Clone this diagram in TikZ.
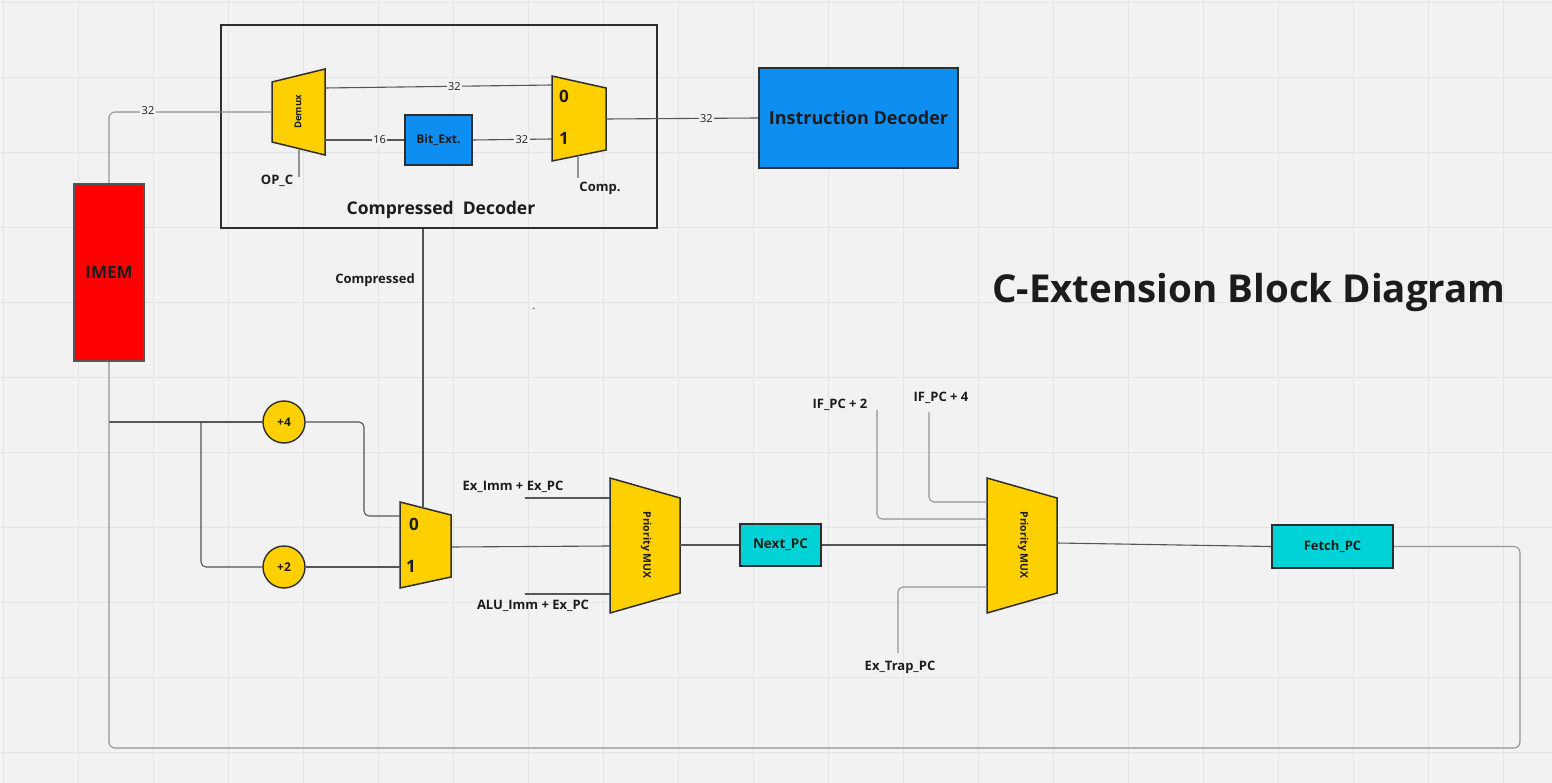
\documentclass[tikz,border=0pt]{standalone}
\usepackage{fontspec}
\setmainfont{Open Sans}
\usetikzlibrary{positioning}

\definecolor{bgcol}{HTML}{F2F2F2}
\definecolor{gridcol}{HTML}{E4E4E4}
\definecolor{muxyellow}{HTML}{FFD000}
\definecolor{imemred}{HTML}{FF0000}
\definecolor{decblue}{HTML}{0E8EF1}
\definecolor{pccyan}{HTML}{00D3D8}
\definecolor{wirecol}{HTML}{555555}
\definecolor{txtcol}{HTML}{1C1C1C}
\definecolor{edgecol}{HTML}{2E2E2E}

\tikzset{
  wire/.style={draw=wirecol, line width=1.1pt},
  softwire/.style={draw=gray!85, line width=1.1pt},
  block/.style={draw=edgecol, line width=1.6pt, inner sep=0pt, text=txtcol},
  muxshape/.style={fill=muxyellow, draw=edgecol, line width=1.5pt},
  buslabel/.style={fill=bgcol, inner sep=1.5pt, text=txtcol, font=\fontsize{11}{11}\selectfont},
  siglabel/.style={inner sep=0pt, text=txtcol, font=\bfseries\fontsize{13}{13}\selectfont},
  portlabel/.style={inner sep=0pt, text=txtcol, font=\bfseries\fontsize{17}{17}\selectfont},
  adder/.style={circle, fill=muxyellow, draw=edgecol, line width=1.4pt, minimum size=42pt, inner sep=0pt, text=txtcol, font=\bfseries\fontsize{12}{12}\selectfont}
}

\begin{document}
\begin{tikzpicture}[x=1pt, y=-1pt]
% Draw background and grid
\fill[bgcol] (0,0) rectangle (1552,783);
\useasboundingbox (0,0) rectangle (1552,783);
\foreach \x in {3,78,...,1553}
\draw[gridcol, line width=0.9pt] (\x,0)--(\x,783);
\foreach \y in {2,77,...,782}
\draw[gridcol, line width=0.9pt] (0,\y)--(1552,\y);

% Draw title
\node[inner sep=0pt, text=txtcol, font=\bfseries\fontsize{38.5}{38.5}\selectfont] (title) at (1249,292) {C-Extension Block Diagram};
\node[inner sep=0pt, font=\fontsize{10}{10}\selectfont] (dot) at (534,309) {.};

% Draw blocks
\node[block, draw=wirecol, fill=imemred, minimum width=70pt, minimum height=177pt, font=\bfseries\fontsize{17}{17}\selectfont] (imem) at (109,272.5) {IMEM};
\node[block, minimum width=436pt, minimum height=203pt] (cdec) at (439,126.5) {};
\node[siglabel, font=\bfseries\fontsize{17.5}{17.5}\selectfont] (cdeclabel) at (441,210) {Compressed\ \ Decoder};
\node[block, fill=decblue, minimum width=67pt, minimum height=50pt, font=\bfseries\fontsize{12}{12}\selectfont] (bitext) at (438.5,140) {Bit\_Ext.};
\node[block, fill=decblue, minimum width=199pt, minimum height=100pt, font=\bfseries\fontsize{18}{18}\selectfont] (idec) at (858.5,118) {Instruction Decoder};
\node[block, fill=pccyan, minimum width=81pt, minimum height=42pt, font=\bfseries\fontsize{13.5}{13.5}\selectfont] (nextpc) at (780.5,545) {Next\_PC};
\node[block, fill=pccyan, minimum width=121pt, minimum height=43pt, font=\bfseries\fontsize{13}{13}\selectfont] (fetchpc) at (1332.5,546.5) {Fetch\_PC};
\node[adder] (plus4) at (284,422) {+4};
\node[adder] (plus2) at (284,567) {+2};

% Draw demux
\filldraw[muxshape] (272,82)--(325,69)--(325,155)--(272,142)--cycle;
\node[rotate=90, inner sep=0pt, text=txtcol, font=\bfseries\fontsize{9.5}{9.5}\selectfont] (demux) at (298,112) {Demux};
\coordinate (demux-in) at (272,112);
\coordinate (demux-o0) at (325,88);
\coordinate (demux-o1) at (325,140);
\coordinate (demux-sel) at (299,149);

% Draw output mux of the decoder
\filldraw[muxshape] (552,76)--(606,88)--(606,150)--(552,161)--cycle;
\node[portlabel] (mux1-zero) at (564,96) {0};
\node[portlabel] (mux1-one) at (564,138) {1};
\coordinate (mux1-in0) at (552,85);
\coordinate (mux1-in1) at (552,139);
\coordinate (mux1-out) at (606,119);
\coordinate (mux1-sel) at (578,156);

% Draw PC increment mux
\filldraw[muxshape] (400,502)--(451,515)--(451,577)--(400,588)--cycle;
\node[portlabel] (mux2-zero) at (414,524) {0};
\node[portlabel] (mux2-one) at (411,566) {1};
\coordinate (mux2-in0) at (400,516);
\coordinate (mux2-in1) at (400,567);
\coordinate (mux2-out) at (451,547);
\coordinate (mux2-sel) at (423,508);

% Draw priority muxes
\foreach \m/\px in {pmux1/610, pmux2/987} {
\filldraw[muxshape] (\px,478)--(\px+70,498)--(\px+70,593)--(\px,613)--cycle;
\node[rotate=-90, inner sep=0pt, text=txtcol, font=\bfseries\fontsize{10.5}{10.5}\selectfont] (\m) at (\px+36,545) {Priority MUX};
}
\coordinate (pmux1-in0) at (610,498);
\coordinate (pmux1-in1) at (610,546);
\coordinate (pmux1-in2) at (610,594);
\coordinate (pmux1-out) at (680,545);
\coordinate (pmux2-in0) at (987,502);
\coordinate (pmux2-in1) at (987,519);
\coordinate (pmux2-in2) at (987,545);
\coordinate (pmux2-in3) at (987,587);
\coordinate (pmux2-out) at (1057,543);

% Draw decoder wires
\draw[softwire, rounded corners=6pt] (imem.north) |- (demux-in);
\node[buslabel] at (148,111) {32};
\draw[wire] (demux-o0) -- node[buslabel, pos=0.57] {32} (mux1-in0);
\draw[wire] (demux-o1) -- node[buslabel, pos=0.69] {16} (bitext.west);
\draw[wire] (bitext.east) -- node[buslabel, pos=0.62] {32} (mux1-in1);
\draw[wire] (mux1-out) -- node[buslabel, pos=0.66] {32} (idec.west);
\coordinate (opc-end) at (299,177);
\draw[softwire] (demux-sel) -- (opc-end);
\node[siglabel] (opc) at (277,181) {OP\_C};
\coordinate (comp-end) at (578,178);
\draw[softwire] (mux1-sel) -- (comp-end);
\node[siglabel] (comp) at (600,188) {Comp.};

% Draw PC increment wires
\coordinate (pc-split) at (109,422);
\coordinate (inc-split) at (201,422);
\coordinate (inc-bend) at (364,516);
\draw[wire] (pc-split) -- (plus4.west);
\draw[wire, rounded corners=5pt] (inc-split) |- (plus2.west);
\draw[wire, rounded corners=5pt] (plus4.east) -| (inc-bend) -- (mux2-in0);
\draw[wire] (plus2.east) -- (mux2-in1);
\draw[wire] (mux2-sel) -- (mux2-sel |- cdec.south);
\node[siglabel] (compressed) at (375,280) {Compressed};

% Draw next PC wires
\coordinate (eximm) at (525,498);
\coordinate (aluimm) at (525,594);
\draw[wire] (eximm) -- (pmux1-in0);
\draw[wire] (aluimm) -- (pmux1-in2);
\node[siglabel] (eximm-label) at (513,487) {Ex\_Imm + Ex\_PC};
\node[siglabel] (aluimm-label) at (533,606) {ALU\_Imm + Ex\_PC};
\draw[wire] (mux2-out) -- (pmux1-in1);
\draw[wire] (pmux1-out) -- (nextpc.west);
\draw[wire] (nextpc.east) -- (pmux2-in2);

% Draw fetch PC wires
\coordinate (ifpc2) at (877,410);
\coordinate (ifpc4) at (929,412);
\coordinate (trap) at (898,653);
\draw[softwire, rounded corners=5pt] (ifpc2) |- (pmux2-in1);
\draw[softwire, rounded corners=5pt] (ifpc4) |- (pmux2-in0);
\draw[softwire, rounded corners=5pt] (trap) |- (pmux2-in3);
\node[siglabel] (ifpc2-label) at (840,405) {IF\_PC + 2};
\node[siglabel] (ifpc4-label) at (941,398) {IF\_PC + 4};
\node[siglabel] (trap-label) at (900,667) {Ex\_Trap\_PC};
\draw[wire] (pmux2-out) -- (fetchpc.west);

% Draw feedback loop to IMEM
\coordinate (loop-corner) at (1520,748);
\draw[softwire, rounded corners=6pt] (fetchpc.east) -| (loop-corner) -| (imem.south);
\end{tikzpicture}
\end{document}
